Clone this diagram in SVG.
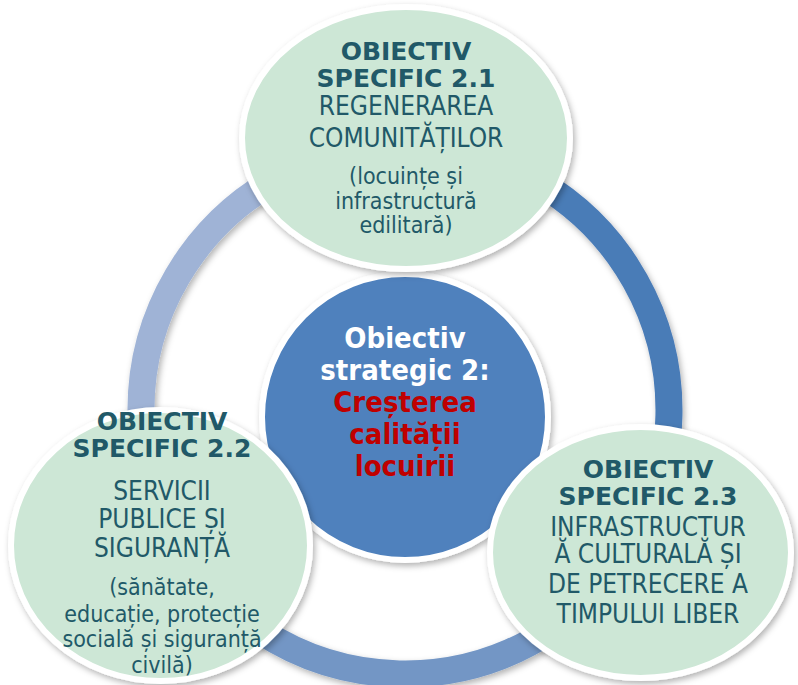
<svg xmlns="http://www.w3.org/2000/svg" width="798" height="685" viewBox="0 0 798 685">
  <defs>
    <filter id="sh" x="-20%" y="-20%" width="140%" height="140%">
      <feDropShadow dx="2" dy="3" stdDeviation="3" flood-color="#000" flood-opacity="0.3"/>
    </filter>
    <style>
      .ring { fill: none; stroke-width: 27; stroke-linecap: butt; }
      .sat { fill: #CDE7D6; stroke: #FFFFFF; stroke-width: 6; }
      .ctr { fill: #4F81BD; stroke: #FFFFFF; stroke-width: 6; }
      .b { font-family: "DejaVu Sans", "Liberation Sans", sans-serif; font-weight: bold; font-size: 25px; fill: #215968; text-anchor: middle; }
      .r { font-family: "DejaVu Sans Condensed", "DejaVu Sans", sans-serif; font-stretch: condensed; font-size: 26px; fill: #215968; text-anchor: middle; }
      .s { font-family: "DejaVu Sans Condensed", "DejaVu Sans", sans-serif; font-stretch: condensed; font-size: 23px; fill: #215968; text-anchor: middle; }
      .cw { font-family: "DejaVu Sans Condensed", "DejaVu Sans", sans-serif; font-stretch: condensed; font-weight: bold; font-size: 29px; fill: #FFFFFF; text-anchor: middle; }
      .cr { font-family: "DejaVu Sans Condensed", "DejaVu Sans", sans-serif; font-stretch: condensed; font-weight: bold; font-size: 29px; fill: #C00000; text-anchor: middle; }
    </style>
  </defs>

  <g id="connectors" filter="url(#sh)">
    <path class="ring" stroke="#4A7BB7" d="M 405 146 A 264 264 0 0 1 630.1 547.9"/>
    <path class="ring" stroke="#7396C5" d="M 630.1 547.9 A 264 264 0 0 1 174.1 538.0"/>
    <path class="ring" stroke="#9FB3D6" d="M 174.1 538.0 A 264 264 0 0 1 405 146"/>
  </g>

  <g id="center">
    <circle class="ctr" cx="405" cy="417" r="143" filter="url(#sh)"/>
    <text class="cw" x="405" y="348">Obiectiv</text>
    <text class="cw" x="405" y="380">strategic 2:</text>
    <text class="cr" x="405" y="412">Creșterea</text>
    <text class="cr" x="405" y="444">calității</text>
    <text class="cr" x="405" y="476">locuirii</text>
  </g>

  <g id="os21">
    <ellipse class="sat" cx="406" cy="138" rx="164" ry="131" filter="url(#sh)"/>
    <text class="b" x="406" y="60">OBIECTIV</text>
    <text class="b" x="406" y="87">SPECIFIC 2.1</text>
    <text class="r" x="406" y="115">REGENERAREA</text>
    <text class="r" x="406" y="147">COMUNITĂȚILOR</text>
    <text class="s" x="406" y="184">(locuințe și</text>
    <text class="s" x="406" y="209">infrastructură</text>
    <text class="s" x="406" y="233">edilitară)</text>
  </g>

  <g id="os22">
    <ellipse class="sat" cx="160.5" cy="545.5" rx="149.5" ry="135.5" filter="url(#sh)"/>
    <text class="b" x="162" y="430">OBIECTIV</text>
    <text class="b" x="162" y="457">SPECIFIC 2.2</text>
    <text class="r" x="162" y="500">SERVICII</text>
    <text class="r" x="162" y="528">PUBLICE ȘI</text>
    <text class="r" x="162" y="557">SIGURANȚĂ</text>
    <text class="s" x="162" y="595">(sănătate,</text>
    <text class="s" x="162" y="622">educație, protecție</text>
    <text class="s" x="162" y="647">socială și siguranță</text>
    <text class="s" x="162" y="673">civilă)</text>
  </g>

  <g id="os23">
    <ellipse class="sat" cx="640.5" cy="552.5" rx="150.5" ry="125.5" filter="url(#sh)"/>
    <text class="b" x="648" y="478">OBIECTIV</text>
    <text class="b" x="648" y="505">SPECIFIC 2.3</text>
    <text class="r" x="648" y="536">INFRASTRUCTUR</text>
    <text class="r" x="648" y="563">Ă CULTURALĂ ȘI</text>
    <text class="r" x="648" y="593">DE PETRECERE A</text>
    <text class="r" x="648" y="623">TIMPULUI LIBER</text>
  </g>
</svg>
